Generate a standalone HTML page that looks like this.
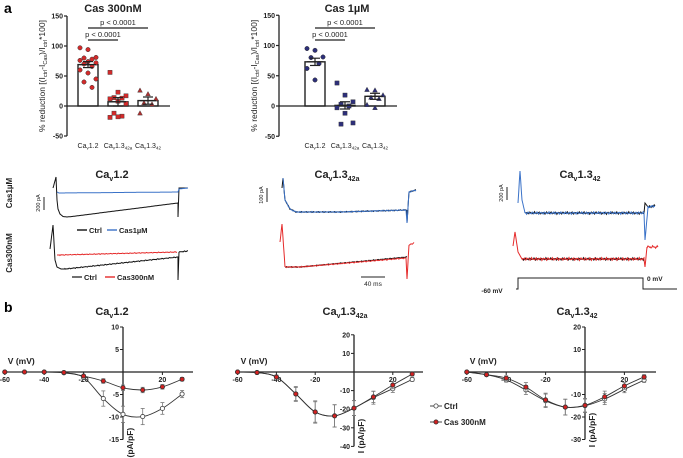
<!DOCTYPE html>
<html><head><meta charset="utf-8">
<style>
html,body{margin:0;padding:0;background:#fff;}
svg{display:block;font-family:"Liberation Sans",Arial,sans-serif;}
.t{font-weight:bold;font-size:11px;text-anchor:middle;fill:#222;}
.tk{font-size:7px;fill:#222;font-weight:bold;}
.sm{font-size:6.5px;fill:#222;}
</style></head>
<body>
<svg id="fig" width="683" height="458" viewBox="0 0 683 458" xmlns="http://www.w3.org/2000/svg">
<text x="4" y="13" font-size="14" font-weight="bold">a</text>
<text x="4" y="312" font-size="14" font-weight="bold">b</text>
<g id="bars"></g>
<g id="traces"></g>
<g id="iv"></g>
</svg>
<script>
// ---------- bar chart data ----------
const barCategories = ["Ca1.2","Ca1.3_42a","Ca1.3_42"];
const yTicksBar = [150,100,50,0,-50];
const cas300Means = [69, 7, 9];
const cas300Errs = [5, 7, 6];
const cas300Pts1 = [97,94,81,80,78,76,74,72,70,66,60,55,45,40,31];
const cas300Pts2 = [56,23,17,14,13,12,8,4,-12,-17,-19,-18];
const cas300Pts3 = [26,20,12,5,3,-12];
const cas1Means = [73, 1, 16];
const cas1Errs = [6, 6, 5];
const cas1Pts1 = [95,92,81,80,70,62,43];
const cas1Pts2 = [38,18,7,3,0,-3,-12,-28,-30];
const cas1Pts3 = [27,26,18,14,12,2,-3];

// ---------- IV data ----------
const voltages = [-60,-50,-40,-30,-20,-10,0,10,20,30];
const iv1Ctrl = [0,0,0,-0.2,-1.2,-5.9,-9.4,-9.9,-8.1,-4.9];
const iv1Cas  = [0,0,0,-0.1,-0.9,-2.0,-3.5,-4.0,-3.3,-1.6];
const iv1CtrlErr = [0,0,0,0.2,0.5,1.7,1.8,1.8,1.3,0.8];
const iv1CasErr = [0,0,0,0.1,0.3,0.5,0.6,0.6,0.5,0.4];
const iv2Ctrl = [0,-0.3,-2.7,-11.8,-21.5,-23.6,-19.4,-13.8,-9.0,-4.0];
const iv2Cas  = [0,-0.3,-2.7,-11.8,-21.5,-23.6,-19.4,-13.4,-7.0,-1.1];
const iv2CtrlErr = [0,0.3,1,4,6,6,4,3.5,2,1];
const iv2CasErr = [0,0.3,1,3.5,5.5,6,4,3,2,1];
const iv3Ctrl = [0,-1.2,-3.5,-8,-12.8,-15.6,-15,-12,-7.7,-3.6];
const iv3Cas  = [0,-1.2,-2.7,-6.7,-12.4,-15.6,-14.8,-11,-6.2,-2.2];
const iv3CtrlErr = [0,0.4,1,2,3,3.5,3,2.5,1.5,1];
const iv3CasErr = [0,0.4,1,2,3,3.5,3,2.5,1.5,1];

const NS="http://www.w3.org/2000/svg";
function mk(parent,tag,attrs,text){const e=document.createElementNS(NS,tag);for(const k in attrs)e.setAttribute(k,attrs[k]);if(text!==undefined)e.textContent=text;parent.appendChild(e);return e;}

// ---------- bar charts ----------
const barsG=document.getElementById('bars');
function barChart(cfg){
  const g=mk(barsG,'g',{});
  
  
  const yS=v=>cfg.y0-v*cfg.k;
  const tt=mk(g,'text',{x:cfg.titleX,y:12,class:'t'},cfg.title);
  
  
  mk(g,'line',{x1:cfg.ax,x2:cfg.ax,y1:yS(150),y2:yS(-50),stroke:'#222','stroke-width':1.3});
  yTicksBar.forEach(t=>{
    mk(g,'line',{x1:cfg.ax-3,x2:cfg.ax,y1:yS(t),y2:yS(t),stroke:'#222','stroke-width':1.2});
    const l=mk(g,'text',{x:cfg.ax-4,y:yS(t)+2.5,class:'tk','text-anchor':'end'},t);
    
    
  });
  const yl=mk(g,'text',{transform:`translate(${cfg.ax-22},${yS(50)}) rotate(-90)`,'text-anchor':'middle','font-size':'8.5',fill:'#222'});
  
  
  yl.innerHTML='% reduction [(I<tspan font-size="5.5" dy="2">ctrl</tspan><tspan dy="-2">-I</tspan><tspan font-size="5.5" dy="2">Cas</tspan><tspan dy="-2">)/I</tspan><tspan font-size="5.5" dy="2">ctrl</tspan><tspan dy="-2">*100]</tspan>';
  cfg.means.forEach((m,i)=>{
    const cx=cfg.cx[i];
    const b=mk(g,'rect',{x:cx-10,y:Math.min(yS(m),yS(0)),width:20,height:Math.abs(yS(m)-yS(0)),fill:'#fff',stroke:'#222','stroke-width':1.4});
    
    
  });
  mk(g,'line',{x1:cfg.ax,x2:cfg.axEnd,y1:yS(0),y2:yS(0),stroke:'#222','stroke-width':1.3});
  cfg.pts.forEach((arr,i)=>{
    const cx=cfg.cx[i];
    arr.forEach((v,j)=>{
      const dx=((j*7)%5-2)*4;
      const x=cx+dx,y=yS(v);
      let p;
      if(i===0&&cfg.circle){p=mk(g,'circle',{cx:x,cy:y,r:2.2,fill:cfg.col,stroke:'#333','stroke-width':0.5});}
      else if(i===2){p=mk(g,'polygon',{points:`${x},${y-2.5} ${x-2.4},${y+1.9} ${x+2.4},${y+1.9}`,fill:cfg.col2,stroke:'#333','stroke-width':0.4});}
      else {p=mk(g,'rect',{x:x-2.1,y:y-2.1,width:4.2,height:4.2,fill:cfg.col,stroke:'#333','stroke-width':0.4});}
      
      
    });
  });
  cfg.means.forEach((m,i)=>{
    const cx=cfg.cx[i],e=cfg.errs[i];
    mk(g,'line',{x1:cx,x2:cx,y1:yS(m+e),y2:yS(m-e),stroke:'#222','stroke-width':1.2});
    mk(g,'line',{x1:cx-5,x2:cx+5,y1:yS(m+e),y2:yS(m+e),stroke:'#222','stroke-width':1.2});
    mk(g,'line',{x1:cx-5,x2:cx+5,y1:yS(m-e),y2:yS(m-e),stroke:'#222','stroke-width':1.2});
    mk(g,'line',{x1:cx-8,x2:cx+8,y1:yS(m),y2:yS(m),stroke:'#222','stroke-width':1.2});
  });
  [[0,2,cfg.y0-78],[0,1,cfg.y0-66]].forEach(s=>{
    const x1=cfg.cx[s[0]],x2=cfg.cx[s[1]];
    mk(g,'line',{x1:x1,x2:x2,y1:s[2],y2:s[2],stroke:'#222','stroke-width':1.3});
    const pt=mk(g,'text',{x:(x1+x2)/2,y:s[2]-3,'text-anchor':'middle','font-size':'7.5',fill:'#222'},'p < 0.0001');
    
    
  });
  const subs=['','42a','42'];
  cfg.cx.forEach((cx,i)=>{
    const l=mk(g,'text',{x:cx,y:148,'text-anchor':'middle','font-size':'7',fill:'#222'});
    
    
    l.innerHTML='Ca<tspan font-size="4.5" dy="1.5">v</tspan><tspan dy="-1.5">'+(i===0?'1.2':'1.3')+'</tspan>'+(subs[i]?'<tspan font-size="4.5" dy="1.5">'+subs[i]+'</tspan>':'');
  });
}
barChart({name:'bar-chart-cas300nm',title:'Cas 300nM',titleX:113,ax:67,axEnd:170,y0:106,k:0.6,cx:[88,118,148],means:cas300Means,errs:cas300Errs,pts:[cas300Pts1,cas300Pts2,cas300Pts3],col:'#d42a2a',col2:'#b03030',circle:true});
barChart({name:'bar-chart-cas1um',title:'Cas 1µM',titleX:347,ax:279,axEnd:397,y0:106,k:0.605,cx:[315,345,375],means:cas1Means,errs:cas1Errs,pts:[cas1Pts1,cas1Pts2,cas1Pts3],col:'#2d2f7a',col2:'#2d2f7a',circle:true});

// ---------- traces ----------
const trG=document.getElementById('traces');
function noiseLine(pts,amp,seed){
  let d='';let first=true;
  for(let i=0;i<pts.length-1;i++){
    const [x1,y1]=pts[i],[x2,y2]=pts[i+1];
    const n=Math.max(1,Math.round(Math.abs(x2-x1)/0.8));
    for(let s=0;s<=n;s++){
      const t=s/n,x=x1+(x2-x1)*t;let y=y1+(y2-y1)*t;
      if(amp&&n>5)y+=amp*Math.sin((x+seed)*7.3)*Math.cos((x+seed)*2.1);
      d+=(first?'M':'L')+x.toFixed(1)+','+y.toFixed(1);first=false;
    }
  }
  return d;
}
function trace(pts,col,amp,seed,name,w){
  const p=mk(trG,'path',{d:noiseLine(pts,amp,seed),fill:'none',stroke:col,'stroke-width':w||1});
  
  
}
function ttl(x,y,sub){
  const t=mk(trG,'text',{x:x,y:y,class:'t'});
  
  
  t.innerHTML='Ca<tspan font-size="7" dy="3">v</tspan><tspan dy="-3">'+(sub===''?'1.2':'1.3')+'</tspan>'+(sub?'<tspan font-size="7" dy="3">'+sub+'</tspan>':'');
}
function rotText(x,y,txt,fs,name,bold){
  const t=mk(trG,'text',{transform:`translate(${x},${y}) rotate(-90)`,'text-anchor':'middle','font-size':fs,fill:'#222','font-weight':bold?'bold':'normal'},txt);
  
  
}
ttl(112,178,'');ttl(337,178,'42a');ttl(580,178,'42');
rotText(12,193,'Cas1µM',8,'row-label-cas1um',true);
rotText(12,253,'Cas300nM',8,'row-label-cas300nm',true);
mk(trG,'line',{x1:44,x2:44,y1:197,y2:210,stroke:'#222','stroke-width':1});
rotText(40,203,'200 pA',5.5,'scale-bar-label');
mk(trG,'line',{x1:267,x2:267,y1:188,y2:202,stroke:'#222','stroke-width':1});
rotText(263,195,'100 pA',5.5,'scale-bar-label');
mk(trG,'line',{x1:507,x2:507,y1:187,y2:200,stroke:'#222','stroke-width':1});
rotText(503,193,'200 pA',5.5,'scale-bar-label');
mk(trG,'line',{x1:361,x2:385,y1:277,y2:277,stroke:'#222','stroke-width':1});
let st=mk(trG,'text',{x:373,y:286,'text-anchor':'middle',class:'sm'},'40 ms');


trace([[53,188],[56,177],[57,200],[58,209],[60,214],[63,216.5],[67,217],[72,216.5],[178,203],[178,217],[179,188],[188,188]],'#111',0,0,'trace-ctrl');
trace([[57,192],[59,193],[178,192],[179,189],[188,188]],'#3a72c8',0,0,'trace-cas1um');
trace([[50,249],[53,225],[55,260],[57,267],[61,269],[65,269],[178,257],[178,280],[179,252],[188,251]],'#111',0.5,1,'trace-ctrl');
trace([[57,255],[60,255],[177,252]],'#e52a2a',0.4,3,'trace-cas300nm');
function leg(x,y,col,txt){
  mk(trG,'line',{x1:x,x2:x+10,y1:y-3,y2:y-3,stroke:col,'stroke-width':1.4});
  const t=mk(trG,'text',{x:x+12,y:y,'font-size':'7.5',fill:'#222','font-weight':'bold'},txt);
  
  
}
leg(77,233,'#111','Ctrl');leg(107,233,'#3a72c8','Cas1µM');
leg(72,280,'#333','Ctrl');leg(105,280,'#e52a2a','Cas300nM');
trace([[282,188],[283,178],[285,200],[290,209],[296,212],[340,212],[407,210],[407,223],[409,192],[416,190]],'#111',0.5,5,'trace-ctrl');
trace([[283,178],[285,200],[290,209],[296,212],[340,212],[406,210],[407,223],[409,192],[416,190]],'#3a72c8',0.6,8,'trace-cas1um');
trace([[285,267],[300,267],[407,257]],'#111',0.4,2,'trace-ctrl');
trace([[280,242],[282,224],[285,267],[300,267],[406,258],[407,279],[409,245],[414,243]],'#e52a2a',0.6,11,'trace-cas300nm');
trace([[525,213],[644,213],[645,203],[648,207],[655,206]],'#111',1.3,4,'trace-ctrl');
trace([[518,203],[520,171],[522,200],[525,213],[644,213],[645,240],[648,207],[655,206]],'#3a72c8',1.3,9,'trace-cas1um');
trace([[522,259],[644,259]],'#111',1.3,6,'trace-ctrl');
trace([[513,246],[515,232],[518,252],[522,259],[644,259],[645,267],[647,247],[658,247]],'#e52a2a',1.5,13,'trace-cas300nm');
const vp=mk(trG,'path',{d:'M516,289 L518,289 L518,278 L643,278 L643,289 L677,289',fill:'none',stroke:'#222','stroke-width':1});


st=mk(trG,'text',{x:492,y:293,'font-size':'6.5',fill:'#222','font-weight':'bold','text-anchor':'middle'},'-60 mV');


st=mk(trG,'text',{x:647,y:281,'font-size':'6.5',fill:'#222','font-weight':'bold'},'0 mV');



// ---------- IV plots ----------
const ivG=document.getElementById('iv');
function smoothPath(P){
  let d='M'+P[0][0]+','+P[0][1];
  for(let i=0;i<P.length-1;i++){
    const p0=P[i-1]||P[i],p1=P[i],p2=P[i+1],p3=P[i+2]||P[i+1];
    const c1=[p1[0]+(p2[0]-p0[0])/6,p1[1]+(p2[1]-p0[1])/6],c2=[p2[0]-(p3[0]-p1[0])/6,p2[1]-(p3[1]-p1[1])/6];
    d+=`C${c1[0].toFixed(1)},${c1[1].toFixed(1)} ${c2[0].toFixed(1)},${c2[1].toFixed(1)} ${p2[0].toFixed(1)},${p2[1].toFixed(1)}`;
  }
  return d;
}
function ivPlot(c){
  const g=mk(ivG,'g',{});
  
  
  const xS=v=>c.ax+v*c.kx, yS=v=>372-v*c.ky;
  const t=mk(g,'text',{x:c.titleX,y:315,class:'t'});
  
  
  t.innerHTML='Ca<tspan font-size="7" dy="3">v</tspan><tspan dy="-3">'+(c.sub===''?'1.2':'1.3')+'</tspan>'+(c.sub?'<tspan font-size="7" dy="3">'+c.sub+'</tspan>':'');
  mk(g,'line',{x1:xS(-60),x2:c.axEnd,y1:372,y2:372,stroke:'#222','stroke-width':1.3});
  mk(g,'line',{x1:c.ax,x2:c.ax,y1:yS(c.yt[0]),y2:yS(c.yt[c.yt.length-1]),stroke:'#222','stroke-width':1.3});
  c.yt.forEach(v=>{ if(v===0)return;
    mk(g,'line',{x1:c.ax-3,x2:c.ax,y1:yS(v),y2:yS(v),stroke:'#222','stroke-width':1});
    const l=mk(g,'text',{x:c.ax-4,y:yS(v)+2.5,class:'tk','text-anchor':'end'},v);
    
    
  });
  [-60,-40,-20,20].forEach(v=>{
    mk(g,'line',{x1:xS(v),x2:xS(v),y1:372,y2:375,stroke:'#222','stroke-width':1});
    const l=mk(g,'text',{x:xS(v),y:382,class:'tk','text-anchor':'middle'},v);
    
    
  });
  let l=mk(g,'text',{x:xS(-60)+3,y:364,'font-size':'8.5','font-weight':'bold',fill:'#222'},'V (mV)');
  
  
  l=mk(g,'text',{transform:`translate(${c.ax+10},${c.ylabY}) rotate(-90)`,'font-size':'8.5','font-weight':'bold',fill:'#222','text-anchor':'middle'},'I (pA/pF)');
  
  
  [[c.ctrl,c.ctrlE,'#fff','#444','series-ctrl'],[c.cas,c.casE,'#d42020','#333','series-cas300nm']].forEach(s=>{
    const P=voltages.map((v,i)=>[xS(v),yS(s[0][i])]);
    const path=mk(g,'path',{d:smoothPath(P),fill:'none',stroke:'#333','stroke-width':0.9});
    
    
    voltages.forEach((v,i)=>{
      const e=s[1][i],x=xS(v);
      if(e>0.2){
        mk(g,'line',{x1:x,x2:x,y1:yS(s[0][i]+e),y2:yS(s[0][i]-e),stroke:'#777','stroke-width':0.8});
        mk(g,'line',{x1:x-2,x2:x+2,y1:yS(s[0][i]+e),y2:yS(s[0][i]+e),stroke:'#777','stroke-width':0.8});
        mk(g,'line',{x1:x-2,x2:x+2,y1:yS(s[0][i]-e),y2:yS(s[0][i]-e),stroke:'#777','stroke-width':0.8});
      }
      const m=mk(g,'circle',{cx:x,cy:yS(s[0][i]),r:2.1,fill:s[2],stroke:s[3],'stroke-width':0.8});
      
      
    });
  });
}
const tk1=[10,5,0,-5,-10,-15], tk2=[20,10,0,-10,-20,-30,-40], tk3=[20,10,0,-10,-20,-30];
ivPlot({name:'iv-plot-cav12',sub:'',titleX:112,ax:123,axEnd:193,kx:1.97,ky:4.5,yt:tk1,ylabY:445,ctrl:iv1Ctrl,cas:iv1Cas,ctrlE:iv1CtrlErr,casE:iv1CasErr});
ivPlot({name:'iv-plot-cav13-42a',sub:'42a',titleX:345,ax:354,axEnd:423,kx:1.94,ky:1.86,yt:tk2,ylabY:436,ctrl:iv2Ctrl,cas:iv2Cas,ctrlE:iv2CtrlErr,casE:iv2CasErr});
ivPlot({name:'iv-plot-cav13-42',sub:'42',titleX:577,ax:585,axEnd:656,kx:1.97,ky:2.25,yt:tk3,ylabY:430,ctrl:iv3Ctrl,cas:iv3Cas,ctrlE:iv3CtrlErr,casE:iv3CasErr});
[[409,'#fff','#444','Ctrl'],[425,'#d42020','#333','Cas 300nM']].forEach(r=>{
  mk(ivG,'line',{x1:430,x2:442,y1:r[0]-3,y2:r[0]-3,stroke:'#333','stroke-width':0.9});
  mk(ivG,'circle',{cx:436,cy:r[0]-3,r:2.1,fill:r[1],stroke:r[2],'stroke-width':0.8});
  const t=mk(ivG,'text',{x:444,y:r[0],'font-size':'8',fill:'#222','font-weight':'bold'},r[3]);
  
  
});
</script>
</body></html>
